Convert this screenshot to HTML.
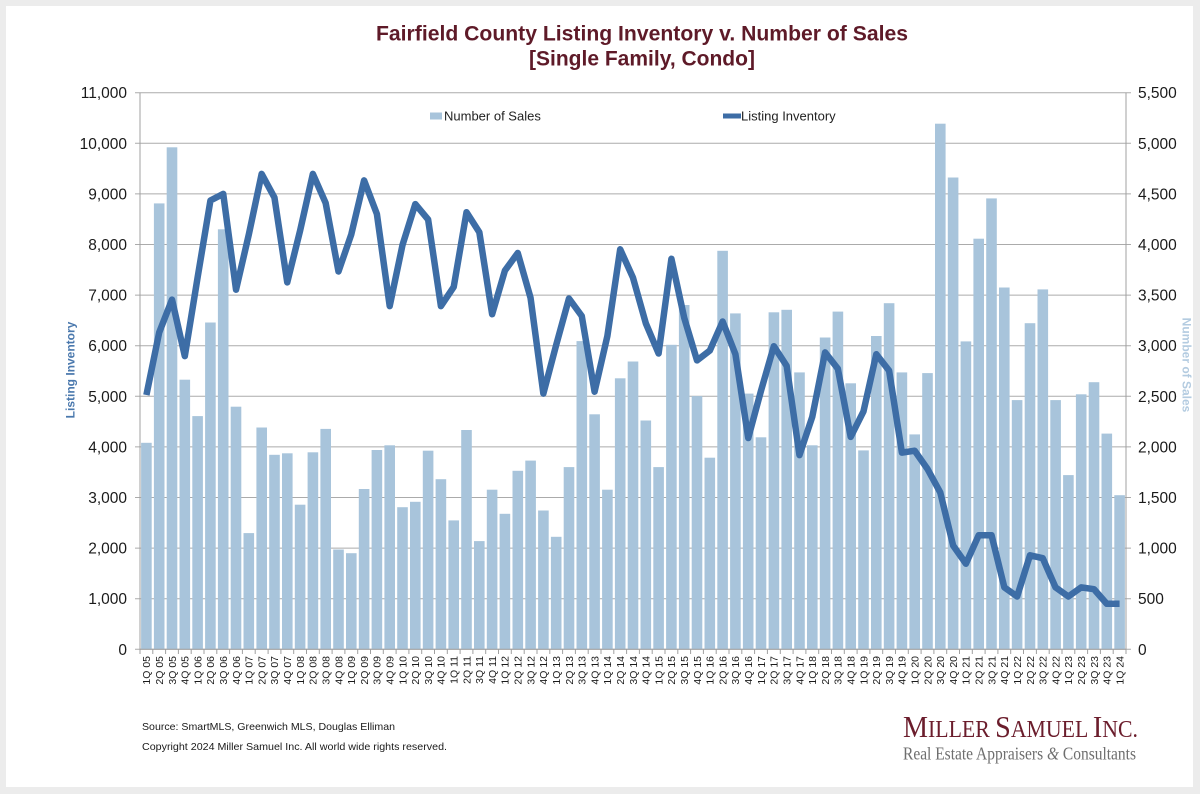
<!DOCTYPE html>
<html><head><meta charset="utf-8"><style>
html,body{margin:0;padding:0;background:#ececec;}
svg{display:block;}
text{font-family:"Liberation Sans",Arial,sans-serif;}
</style></head><body>
<svg width="1200" height="794" viewBox="0 0 1200 794" xmlns="http://www.w3.org/2000/svg">
<rect x="0" y="0" width="1200" height="794" fill="#ececec"/>
<rect x="6" y="6" width="1187" height="781" fill="#ffffff"/>

<!-- Title -->
<text x="642" y="40.5" text-anchor="middle" font-size="21" font-weight="bold" fill="#5e1a28" textLength="532" lengthAdjust="spacingAndGlyphs">Fairfield County Listing Inventory v. Number of Sales</text>
<text x="642" y="65.5" text-anchor="middle" font-size="21" font-weight="bold" fill="#5e1a28">[Single Family, Condo]</text>

<!-- Gridlines -->
<g stroke="#ababab" stroke-width="1">
<line x1="135" y1="649.3" x2="1131" y2="649.3"/>
<line x1="135" y1="598.7" x2="1131" y2="598.7"/>
<line x1="135" y1="548.1" x2="1131" y2="548.1"/>
<line x1="135" y1="497.5" x2="1131" y2="497.5"/>
<line x1="135" y1="446.9" x2="1131" y2="446.9"/>
<line x1="135" y1="396.3" x2="1131" y2="396.3"/>
<line x1="135" y1="345.7" x2="1131" y2="345.7"/>
<line x1="135" y1="295.1" x2="1131" y2="295.1"/>
<line x1="135" y1="244.5" x2="1131" y2="244.5"/>
<line x1="135" y1="193.9" x2="1131" y2="193.9"/>
<line x1="135" y1="143.3" x2="1131" y2="143.3"/>
<line x1="135" y1="92.7" x2="1131" y2="92.7"/>
</g>

<!-- Bars -->
<g fill="#a8c4db">
<rect x="141.1" y="442.8" width="10.6" height="206.5"/>
<rect x="153.9" y="203.4" width="10.6" height="445.9"/>
<rect x="166.7" y="147.3" width="10.6" height="502.0"/>
<rect x="179.5" y="379.7" width="10.6" height="269.6"/>
<rect x="192.3" y="416.1" width="10.6" height="233.2"/>
<rect x="205.1" y="322.5" width="10.6" height="326.8"/>
<rect x="217.9" y="229.3" width="10.6" height="420.0"/>
<rect x="230.7" y="406.7" width="10.6" height="242.6"/>
<rect x="243.5" y="533.1" width="10.6" height="116.2"/>
<rect x="256.4" y="427.5" width="10.6" height="221.8"/>
<rect x="269.2" y="454.8" width="10.6" height="194.5"/>
<rect x="282.0" y="453.3" width="10.6" height="196.0"/>
<rect x="294.8" y="504.7" width="10.6" height="144.6"/>
<rect x="307.6" y="452.3" width="10.6" height="197.0"/>
<rect x="320.4" y="428.9" width="10.6" height="220.4"/>
<rect x="333.2" y="549.5" width="10.6" height="99.8"/>
<rect x="346.0" y="553.2" width="10.6" height="96.1"/>
<rect x="358.8" y="489.0" width="10.6" height="160.3"/>
<rect x="371.6" y="450.0" width="10.6" height="199.3"/>
<rect x="384.4" y="445.3" width="10.6" height="204.0"/>
<rect x="397.2" y="507.2" width="10.6" height="142.1"/>
<rect x="410.0" y="501.8" width="10.6" height="147.5"/>
<rect x="422.8" y="450.7" width="10.6" height="198.6"/>
<rect x="435.6" y="479.2" width="10.6" height="170.1"/>
<rect x="448.4" y="520.4" width="10.6" height="128.9"/>
<rect x="461.2" y="430.0" width="10.6" height="219.3"/>
<rect x="474.0" y="541.1" width="10.6" height="108.2"/>
<rect x="486.8" y="489.7" width="10.6" height="159.6"/>
<rect x="499.6" y="513.8" width="10.6" height="135.5"/>
<rect x="512.5" y="470.8" width="10.6" height="178.5"/>
<rect x="525.3" y="460.6" width="10.6" height="188.7"/>
<rect x="538.1" y="510.5" width="10.6" height="138.8"/>
<rect x="550.9" y="536.8" width="10.6" height="112.5"/>
<rect x="563.7" y="467.1" width="10.6" height="182.2"/>
<rect x="576.5" y="341.1" width="10.6" height="308.2"/>
<rect x="589.3" y="414.3" width="10.6" height="235.0"/>
<rect x="602.1" y="489.7" width="10.6" height="159.6"/>
<rect x="614.9" y="378.3" width="10.6" height="271.0"/>
<rect x="627.7" y="361.5" width="10.6" height="287.8"/>
<rect x="640.5" y="420.5" width="10.6" height="228.8"/>
<rect x="653.3" y="467.1" width="10.6" height="182.2"/>
<rect x="666.1" y="344.8" width="10.6" height="304.5"/>
<rect x="678.9" y="305.0" width="10.6" height="344.3"/>
<rect x="691.7" y="396.1" width="10.6" height="253.2"/>
<rect x="704.5" y="457.7" width="10.6" height="191.6"/>
<rect x="717.3" y="250.8" width="10.6" height="398.5"/>
<rect x="730.1" y="313.4" width="10.6" height="335.9"/>
<rect x="742.9" y="393.6" width="10.6" height="255.7"/>
<rect x="755.7" y="437.3" width="10.6" height="212.0"/>
<rect x="768.6" y="312.3" width="10.6" height="337.0"/>
<rect x="781.4" y="309.8" width="10.6" height="339.5"/>
<rect x="794.2" y="372.4" width="10.6" height="276.9"/>
<rect x="807.0" y="445.3" width="10.6" height="204.0"/>
<rect x="819.8" y="337.5" width="10.6" height="311.8"/>
<rect x="832.6" y="311.6" width="10.6" height="337.7"/>
<rect x="845.4" y="383.3" width="10.6" height="266.0"/>
<rect x="858.2" y="450.4" width="10.6" height="198.9"/>
<rect x="871.0" y="336.0" width="10.6" height="313.3"/>
<rect x="883.8" y="303.2" width="10.6" height="346.1"/>
<rect x="896.6" y="372.4" width="10.6" height="276.9"/>
<rect x="909.4" y="434.4" width="10.6" height="214.9"/>
<rect x="922.2" y="373.1" width="10.6" height="276.2"/>
<rect x="935.0" y="123.7" width="10.6" height="525.6"/>
<rect x="947.8" y="177.5" width="10.6" height="471.8"/>
<rect x="960.6" y="341.4" width="10.6" height="307.9"/>
<rect x="973.4" y="238.7" width="10.6" height="410.6"/>
<rect x="986.2" y="198.4" width="10.6" height="450.9"/>
<rect x="999.0" y="287.5" width="10.6" height="361.8"/>
<rect x="1011.8" y="400.1" width="10.6" height="249.2"/>
<rect x="1024.7" y="323.2" width="10.6" height="326.1"/>
<rect x="1037.5" y="289.4" width="10.6" height="359.9"/>
<rect x="1050.3" y="400.1" width="10.6" height="249.2"/>
<rect x="1063.1" y="475.1" width="10.6" height="174.2"/>
<rect x="1075.9" y="394.3" width="10.6" height="255.0"/>
<rect x="1088.7" y="382.2" width="10.6" height="267.1"/>
<rect x="1101.5" y="433.6" width="10.6" height="215.7"/>
<rect x="1114.3" y="495.2" width="10.6" height="154.1"/>
</g>

<!-- Axes -->
<line x1="140" y1="92.7" x2="140" y2="649.3" stroke="#a0a0a0" stroke-width="1"/>
<line x1="1126" y1="92.7" x2="1126" y2="649.3" stroke="#a0a0a0" stroke-width="1"/>
<line x1="140" y1="649.3" x2="1126" y2="649.3" stroke="#a0a0a0" stroke-width="1"/>

<!-- Line series -->
<polyline fill="none" stroke="#3d6da6" stroke-width="6.5" stroke-linejoin="round" stroke-linecap="butt" points="146.40,395.0 159.21,332.4 172.01,299.6 184.82,356.1 197.62,277.4 210.43,200.5 223.23,193.9 236.04,289.7 248.84,234.4 261.65,173.9 274.45,197.6 287.26,282.4 300.06,230.8 312.87,173.9 325.67,203.1 338.48,271.5 351.28,234.4 364.09,180.4 376.89,214.0 389.70,306.1 402.50,245.0 415.31,204.1 428.11,219.5 440.92,306.1 453.72,286.9 466.53,212.2 479.33,232.2 492.14,314.2 504.94,270.5 517.75,253.0 530.55,297.8 543.36,393.6 556.16,345.1 568.97,298.5 581.77,316.0 594.58,391.7 607.38,336.0 620.19,249.3 632.99,277.7 645.80,323.3 658.60,353.5 671.41,258.8 684.21,317.8 697.02,360.4 709.82,350.6 722.63,321.5 735.43,354.2 748.24,438.0 761.04,390.6 773.85,346.2 786.65,365.9 799.46,455.1 812.26,416.9 825.07,352.4 837.87,368.8 850.68,436.9 863.48,411.4 876.29,354.2 889.09,370.6 901.90,452.6 914.70,450.7 927.51,469.0 940.31,492.6 953.12,545.5 965.92,563.7 978.73,535.2 991.53,535.2 1004.34,587.4 1017.14,596.5 1029.95,555.3 1042.75,558.2 1055.56,587.4 1068.36,596.5 1081.17,587.4 1093.97,589.2 1106.78,603.8 1119.58,603.8"/>

<!-- Legend -->
<rect x="430" y="112.5" width="12" height="7" fill="#a8c4db"/>
<text x="444" y="120.5" font-size="13" fill="#222">Number of Sales</text>
<line x1="723" y1="116" x2="741" y2="116" stroke="#3d6da6" stroke-width="5"/>
<text x="741" y="120.5" font-size="13" fill="#222">Listing Inventory</text>

<!-- Left tick labels -->
<g font-size="15.5" fill="#1a1a1a" text-anchor="end">
<text x="127" y="654.8">0</text>
<text x="127" y="604.2">1,000</text>
<text x="127" y="553.6">2,000</text>
<text x="127" y="503.0">3,000</text>
<text x="127" y="452.4">4,000</text>
<text x="127" y="401.8">5,000</text>
<text x="127" y="351.2">6,000</text>
<text x="127" y="300.6">7,000</text>
<text x="127" y="250.0">8,000</text>
<text x="127" y="199.4">9,000</text>
<text x="127" y="148.8">10,000</text>
<text x="127" y="98.2">11,000</text>
</g>
<!-- Right tick labels -->
<g font-size="15.5" fill="#1a1a1a" text-anchor="start">
<text x="1138" y="654.8">0</text>
<text x="1138" y="604.2">500</text>
<text x="1138" y="553.6">1,000</text>
<text x="1138" y="503.0">1,500</text>
<text x="1138" y="452.4">2,000</text>
<text x="1138" y="401.8">2,500</text>
<text x="1138" y="351.2">3,000</text>
<text x="1138" y="300.6">3,500</text>
<text x="1138" y="250.0">4,000</text>
<text x="1138" y="199.4">4,500</text>
<text x="1138" y="148.8">5,000</text>
<text x="1138" y="98.2">5,500</text>
</g>

<!-- Axis titles -->
<text transform="translate(74.3,370) rotate(-90)" text-anchor="middle" font-size="12" font-weight="bold" fill="#4a78ad">Listing Inventory</text>
<text transform="translate(1182.7,365) rotate(90)" text-anchor="middle" font-size="12" font-weight="bold" fill="#b3cbe0">Number of Sales</text>

<!-- X tick marks -->
<g stroke="#a0a0a0" stroke-width="1">
<line x1="140" y1="649.3" x2="140" y2="654"/>
<line x1="152.8" y1="649.3" x2="152.8" y2="654"/>
<line x1="165.6" y1="649.3" x2="165.6" y2="654"/>
<line x1="178.4" y1="649.3" x2="178.4" y2="654"/>
<line x1="191.2" y1="649.3" x2="191.2" y2="654"/>
<line x1="204.0" y1="649.3" x2="204.0" y2="654"/>
<line x1="216.8" y1="649.3" x2="216.8" y2="654"/>
<line x1="229.6" y1="649.3" x2="229.6" y2="654"/>
<line x1="242.4" y1="649.3" x2="242.4" y2="654"/>
<line x1="255.2" y1="649.3" x2="255.2" y2="654"/>
<line x1="268.1" y1="649.3" x2="268.1" y2="654"/>
<line x1="280.9" y1="649.3" x2="280.9" y2="654"/>
<line x1="293.7" y1="649.3" x2="293.7" y2="654"/>
<line x1="306.5" y1="649.3" x2="306.5" y2="654"/>
<line x1="319.3" y1="649.3" x2="319.3" y2="654"/>
<line x1="332.1" y1="649.3" x2="332.1" y2="654"/>
<line x1="344.9" y1="649.3" x2="344.9" y2="654"/>
<line x1="357.7" y1="649.3" x2="357.7" y2="654"/>
<line x1="370.5" y1="649.3" x2="370.5" y2="654"/>
<line x1="383.3" y1="649.3" x2="383.3" y2="654"/>
<line x1="396.1" y1="649.3" x2="396.1" y2="654"/>
<line x1="408.9" y1="649.3" x2="408.9" y2="654"/>
<line x1="421.7" y1="649.3" x2="421.7" y2="654"/>
<line x1="434.5" y1="649.3" x2="434.5" y2="654"/>
<line x1="447.3" y1="649.3" x2="447.3" y2="654"/>
<line x1="460.1" y1="649.3" x2="460.1" y2="654"/>
<line x1="472.9" y1="649.3" x2="472.9" y2="654"/>
<line x1="485.7" y1="649.3" x2="485.7" y2="654"/>
<line x1="498.5" y1="649.3" x2="498.5" y2="654"/>
<line x1="511.3" y1="649.3" x2="511.3" y2="654"/>
<line x1="524.2" y1="649.3" x2="524.2" y2="654"/>
<line x1="537.0" y1="649.3" x2="537.0" y2="654"/>
<line x1="549.8" y1="649.3" x2="549.8" y2="654"/>
<line x1="562.6" y1="649.3" x2="562.6" y2="654"/>
<line x1="575.4" y1="649.3" x2="575.4" y2="654"/>
<line x1="588.2" y1="649.3" x2="588.2" y2="654"/>
<line x1="601.0" y1="649.3" x2="601.0" y2="654"/>
<line x1="613.8" y1="649.3" x2="613.8" y2="654"/>
<line x1="626.6" y1="649.3" x2="626.6" y2="654"/>
<line x1="639.4" y1="649.3" x2="639.4" y2="654"/>
<line x1="652.2" y1="649.3" x2="652.2" y2="654"/>
<line x1="665.0" y1="649.3" x2="665.0" y2="654"/>
<line x1="677.8" y1="649.3" x2="677.8" y2="654"/>
<line x1="690.6" y1="649.3" x2="690.6" y2="654"/>
<line x1="703.4" y1="649.3" x2="703.4" y2="654"/>
<line x1="716.2" y1="649.3" x2="716.2" y2="654"/>
<line x1="729.0" y1="649.3" x2="729.0" y2="654"/>
<line x1="741.8" y1="649.3" x2="741.8" y2="654"/>
<line x1="754.6" y1="649.3" x2="754.6" y2="654"/>
<line x1="767.4" y1="649.3" x2="767.4" y2="654"/>
<line x1="780.3" y1="649.3" x2="780.3" y2="654"/>
<line x1="793.1" y1="649.3" x2="793.1" y2="654"/>
<line x1="805.9" y1="649.3" x2="805.9" y2="654"/>
<line x1="818.7" y1="649.3" x2="818.7" y2="654"/>
<line x1="831.5" y1="649.3" x2="831.5" y2="654"/>
<line x1="844.3" y1="649.3" x2="844.3" y2="654"/>
<line x1="857.1" y1="649.3" x2="857.1" y2="654"/>
<line x1="869.9" y1="649.3" x2="869.9" y2="654"/>
<line x1="882.7" y1="649.3" x2="882.7" y2="654"/>
<line x1="895.5" y1="649.3" x2="895.5" y2="654"/>
<line x1="908.3" y1="649.3" x2="908.3" y2="654"/>
<line x1="921.1" y1="649.3" x2="921.1" y2="654"/>
<line x1="933.9" y1="649.3" x2="933.9" y2="654"/>
<line x1="946.7" y1="649.3" x2="946.7" y2="654"/>
<line x1="959.5" y1="649.3" x2="959.5" y2="654"/>
<line x1="972.3" y1="649.3" x2="972.3" y2="654"/>
<line x1="985.1" y1="649.3" x2="985.1" y2="654"/>
<line x1="997.9" y1="649.3" x2="997.9" y2="654"/>
<line x1="1010.7" y1="649.3" x2="1010.7" y2="654"/>
<line x1="1023.5" y1="649.3" x2="1023.5" y2="654"/>
<line x1="1036.4" y1="649.3" x2="1036.4" y2="654"/>
<line x1="1049.2" y1="649.3" x2="1049.2" y2="654"/>
<line x1="1062.0" y1="649.3" x2="1062.0" y2="654"/>
<line x1="1074.8" y1="649.3" x2="1074.8" y2="654"/>
<line x1="1087.6" y1="649.3" x2="1087.6" y2="654"/>
<line x1="1100.4" y1="649.3" x2="1100.4" y2="654"/>
<line x1="1113.2" y1="649.3" x2="1113.2" y2="654"/>
<line x1="1126" y1="649.3" x2="1126" y2="654"/>
</g>

<!-- X labels -->
<g font-size="10.5" fill="#1a1a1a" text-anchor="end">
<text transform="translate(150.2,656) rotate(-90)">1Q 05</text>
<text transform="translate(163.0,656) rotate(-90)">2Q 05</text>
<text transform="translate(175.8,656) rotate(-90)">3Q 05</text>
<text transform="translate(188.6,656) rotate(-90)">4Q 05</text>
<text transform="translate(201.4,656) rotate(-90)">1Q 06</text>
<text transform="translate(214.2,656) rotate(-90)">2Q 06</text>
<text transform="translate(227.0,656) rotate(-90)">3Q 06</text>
<text transform="translate(239.8,656) rotate(-90)">4Q 06</text>
<text transform="translate(252.6,656) rotate(-90)">1Q 07</text>
<text transform="translate(265.4,656) rotate(-90)">2Q 07</text>
<text transform="translate(278.2,656) rotate(-90)">3Q 07</text>
<text transform="translate(291.1,656) rotate(-90)">4Q 07</text>
<text transform="translate(303.9,656) rotate(-90)">1Q 08</text>
<text transform="translate(316.7,656) rotate(-90)">2Q 08</text>
<text transform="translate(329.5,656) rotate(-90)">3Q 08</text>
<text transform="translate(342.3,656) rotate(-90)">4Q 08</text>
<text transform="translate(355.1,656) rotate(-90)">1Q 09</text>
<text transform="translate(367.9,656) rotate(-90)">2Q 09</text>
<text transform="translate(380.7,656) rotate(-90)">3Q 09</text>
<text transform="translate(393.5,656) rotate(-90)">4Q 09</text>
<text transform="translate(406.3,656) rotate(-90)">1Q 10</text>
<text transform="translate(419.1,656) rotate(-90)">2Q 10</text>
<text transform="translate(431.9,656) rotate(-90)">3Q 10</text>
<text transform="translate(444.7,656) rotate(-90)">4Q 10</text>
<text transform="translate(457.5,656) rotate(-90)">1Q 11</text>
<text transform="translate(470.3,656) rotate(-90)">2Q 11</text>
<text transform="translate(483.1,656) rotate(-90)">3Q 11</text>
<text transform="translate(495.9,656) rotate(-90)">4Q 11</text>
<text transform="translate(508.7,656) rotate(-90)">1Q 12</text>
<text transform="translate(521.5,656) rotate(-90)">2Q 12</text>
<text transform="translate(534.4,656) rotate(-90)">3Q 12</text>
<text transform="translate(547.2,656) rotate(-90)">4Q 12</text>
<text transform="translate(560.0,656) rotate(-90)">1Q 13</text>
<text transform="translate(572.8,656) rotate(-90)">2Q 13</text>
<text transform="translate(585.6,656) rotate(-90)">3Q 13</text>
<text transform="translate(598.4,656) rotate(-90)">4Q 13</text>
<text transform="translate(611.2,656) rotate(-90)">1Q 14</text>
<text transform="translate(624.0,656) rotate(-90)">2Q 14</text>
<text transform="translate(636.8,656) rotate(-90)">3Q 14</text>
<text transform="translate(649.6,656) rotate(-90)">4Q 14</text>
<text transform="translate(662.4,656) rotate(-90)">1Q 15</text>
<text transform="translate(675.2,656) rotate(-90)">2Q 15</text>
<text transform="translate(688.0,656) rotate(-90)">3Q 15</text>
<text transform="translate(700.8,656) rotate(-90)">4Q 15</text>
<text transform="translate(713.6,656) rotate(-90)">1Q 16</text>
<text transform="translate(726.4,656) rotate(-90)">2Q 16</text>
<text transform="translate(739.2,656) rotate(-90)">3Q 16</text>
<text transform="translate(752.0,656) rotate(-90)">4Q 16</text>
<text transform="translate(764.8,656) rotate(-90)">1Q 17</text>
<text transform="translate(777.6,656) rotate(-90)">2Q 17</text>
<text transform="translate(790.5,656) rotate(-90)">3Q 17</text>
<text transform="translate(803.3,656) rotate(-90)">4Q 17</text>
<text transform="translate(816.1,656) rotate(-90)">1Q 18</text>
<text transform="translate(828.9,656) rotate(-90)">2Q 18</text>
<text transform="translate(841.7,656) rotate(-90)">3Q 18</text>
<text transform="translate(854.5,656) rotate(-90)">4Q 18</text>
<text transform="translate(867.3,656) rotate(-90)">1Q 19</text>
<text transform="translate(880.1,656) rotate(-90)">2Q 19</text>
<text transform="translate(892.9,656) rotate(-90)">3Q 19</text>
<text transform="translate(905.7,656) rotate(-90)">4Q 19</text>
<text transform="translate(918.5,656) rotate(-90)">1Q 20</text>
<text transform="translate(931.3,656) rotate(-90)">2Q 20</text>
<text transform="translate(944.1,656) rotate(-90)">3Q 20</text>
<text transform="translate(956.9,656) rotate(-90)">4Q 20</text>
<text transform="translate(969.7,656) rotate(-90)">1Q 21</text>
<text transform="translate(982.5,656) rotate(-90)">2Q 21</text>
<text transform="translate(995.3,656) rotate(-90)">3Q 21</text>
<text transform="translate(1008.1,656) rotate(-90)">4Q 21</text>
<text transform="translate(1020.9,656) rotate(-90)">1Q 22</text>
<text transform="translate(1033.8,656) rotate(-90)">2Q 22</text>
<text transform="translate(1046.6,656) rotate(-90)">3Q 22</text>
<text transform="translate(1059.4,656) rotate(-90)">4Q 22</text>
<text transform="translate(1072.2,656) rotate(-90)">1Q 23</text>
<text transform="translate(1085.0,656) rotate(-90)">2Q 23</text>
<text transform="translate(1097.8,656) rotate(-90)">3Q 23</text>
<text transform="translate(1110.6,656) rotate(-90)">4Q 23</text>
<text transform="translate(1123.4,656) rotate(-90)">1Q 24</text>
</g>

<!-- Footer -->
<text x="142" y="730" font-size="10.5" fill="#1a1a1a" textLength="253" lengthAdjust="spacingAndGlyphs">Source: SmartMLS, Greenwich MLS, Douglas Elliman</text>
<text x="142" y="750" font-size="10.5" fill="#1a1a1a" textLength="305" lengthAdjust="spacingAndGlyphs">Copyright 2024 Miller Samuel Inc.  All world wide rights reserved.</text>

<!-- Logo -->
<text x="903" y="737" font-family="Liberation Serif, serif" fill="#6b1d2c" textLength="235" lengthAdjust="spacingAndGlyphs" style="font-family:'Liberation Serif',serif"><tspan font-size="31">M</tspan><tspan font-size="24">ILLER </tspan><tspan font-size="31">S</tspan><tspan font-size="24">AMUEL </tspan><tspan font-size="31">I</tspan><tspan font-size="24">NC.</tspan></text>
<text x="903" y="759.5" font-size="17.5" fill="#6e6e6e" textLength="233" lengthAdjust="spacingAndGlyphs" style="font-family:'Liberation Serif',serif">Real Estate Appraisers <tspan font-style="italic">&amp;</tspan> Consultants</text>
</svg>
</body></html>
